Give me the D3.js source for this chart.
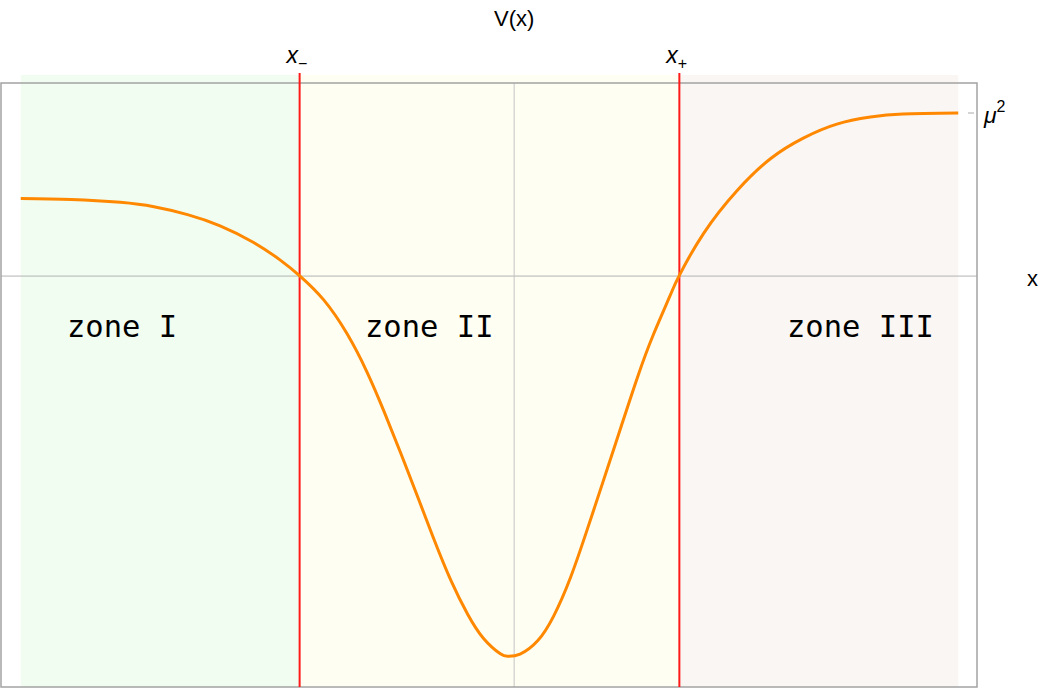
<!DOCTYPE html>
<html>
<head>
<meta charset="utf-8">
<script src="https://cdn.jsdelivr.net/npm/d3@7"></script>
<style>
  body { margin: 0; background: #fff; }
  svg text { font-family: "Liberation Sans", Arial, sans-serif; }
</style>
</head>
<body>
<div class="chart"></div>
<script>
// curve (x, V(x)), with mu^2 = 1
const xs = [-5.0, -4.49, -3.99, -3.65, -3.31, -2.98, -2.64, -2.37, -2.17, -1.93, -1.69, -1.49,
            -1.32, -1.15, -0.98, -0.82, -0.64, -0.47, -0.31, -0.14, -0.06, 0.06, 0.24, 0.40,
            0.57, 0.74, 0.90, 1.08, 1.25, 1.41, 1.58, 1.67, 1.92, 2.26, 2.60, 2.93, 3.27,
            3.61, 3.94, 4.5];
const vs = [0.476, 0.470, 0.452, 0.425, 0.377, 0.308, 0.206, 0.098, 0.0, -0.146, -0.357, -0.590,
            -0.828, -1.085, -1.350, -1.603, -1.868, -2.075, -2.222, -2.316, -2.331, -2.318, -2.235, -2.085,
            -1.850, -1.555, -1.262, -0.930, -0.620, -0.360, -0.120, 0.0, 0.262, 0.525, 0.721, 0.846, 0.932,
            0.975, 0.994, 1.0];

const turningPoints = [-2.174, 1.674];        // x-, x+
const turningLabels = ["−", "+"];
const zoneNames = ["zone I", "zone II", "zone III"];
const zoneColors = ["#f1fdf1", "#fefef2", "#faf6f3"];
const muSquared = 1;

const margin = {top: 83, right: 65, bottom: 5, left: 1};
const W = 1042, H = 692;
const width = W - margin.left - margin.right;
const height = H - margin.top - margin.bottom;

const svg = d3.select(".chart").append("svg")
    .attr("width", W).attr("height", H)
  .append("g")
    .attr("transform", "translate(" + margin.left + "," + margin.top + ")");

const xScale = d3.scaleLinear().domain([-5.2, 4.69]).range([0, width]);
const yScale = d3.scaleLinear().domain([-2.52, 1.184]).range([height, 0]);

const data = xs.map((x, i) => ({x: x, v: vs[i]}));
const xMin = d3.min(xs), xMax = d3.max(xs);

// zone shading
const edges = [xMin, ...turningPoints, xMax];
svg.selectAll("rect.zone")
    .data(zoneNames)
  .enter().append("rect")
    .attr("class", "zone")
    .attr("x", (d, i) => xScale(edges[i]))
    .attr("width", (d, i) => xScale(edges[i + 1]) - xScale(edges[i]))
    .attr("y", -8)
    .attr("height", height + 8)
    .attr("fill", (d, i) => zoneColors[i]);

// axes through origin
svg.append("line")
    .attr("x1", 0).attr("x2", width)
    .attr("y1", yScale(0)).attr("y2", yScale(0))
    .attr("stroke", "#b3b3b3").attr("stroke-width", 1);
svg.append("line")
    .attr("x1", xScale(0)).attr("x2", xScale(0))
    .attr("y1", 0).attr("y2", height)
    .attr("stroke", "#c4c4c4").attr("stroke-width", 1);

// frame
svg.append("rect")
    .attr("x", 0).attr("y", 0)
    .attr("width", width).attr("height", height)
    .attr("fill", "none")
    .attr("stroke", "#a3a3a3").attr("stroke-width", 1.5);

// mu^2 tick on the right side
svg.append("line")
    .attr("x1", width - 9).attr("x2", width - 3)
    .attr("y1", yScale(muSquared)).attr("y2", yScale(muSquared))
    .attr("stroke", "#aaa");
const mu = svg.append("text")
    .attr("x", width + 7).attr("y", yScale(muSquared) + 10)
    .attr("font-size", 23);
mu.append("tspan").attr("font-style", "italic").text("μ");
mu.append("tspan").attr("dy", -11).attr("font-size", 16).text("2");

// turning point lines
svg.selectAll("line.turn")
    .data(turningPoints)
  .enter().append("line")
    .attr("class", "turn")
    .attr("x1", d => xScale(d)).attr("x2", d => xScale(d))
    .attr("y1", -10).attr("y2", height)
    .attr("stroke", "#ff1a1a").attr("stroke-width", 2);

svg.selectAll("text.turn")
    .data(turningPoints)
  .enter().append("text")
    .attr("class", "turn")
    .attr("x", d => xScale(d) - 13)
    .attr("y", -20)
    .attr("font-size", 23)
    .each(function(d, i) {
      const t = d3.select(this);
      t.append("tspan").attr("font-style", "italic").text("x");
      t.append("tspan").attr("dy", 6).attr("font-size", 16).text(turningLabels[i]);
    });

// potential curve
const line = d3.line()
    .x(d => xScale(d.x))
    .y(d => yScale(d.v))
    .curve(d3.curveNatural);
svg.append("path")
    .datum(data)
    .attr("fill", "none")
    .attr("stroke", "#ff8800")
    .attr("stroke-width", 3)
    .attr("d", line);

// zone labels
const labelX = [67, 365, 787];
svg.selectAll("text.zone")
    .data(zoneNames)
  .enter().append("text")
    .attr("class", "zone")
    .attr("x", (d, i) => labelX[i] - margin.left)
    .attr("y", 337 - margin.top)
    .attr("font-size", 30.5)
    .style("font-family", "'DejaVu Sans Mono', monospace")
    .text(d => d);

// axis labels
svg.append("text")
    .attr("x", xScale(0)).attr("y", 26 - margin.top)
    .attr("text-anchor", "middle")
    .attr("font-size", 22)
    .text("V(x)");
svg.append("text")
    .attr("x", 1027 - margin.left).attr("y", yScale(0) + 10)
    .attr("font-size", 22)
    .text("x");
</script>
</body>
</html>
